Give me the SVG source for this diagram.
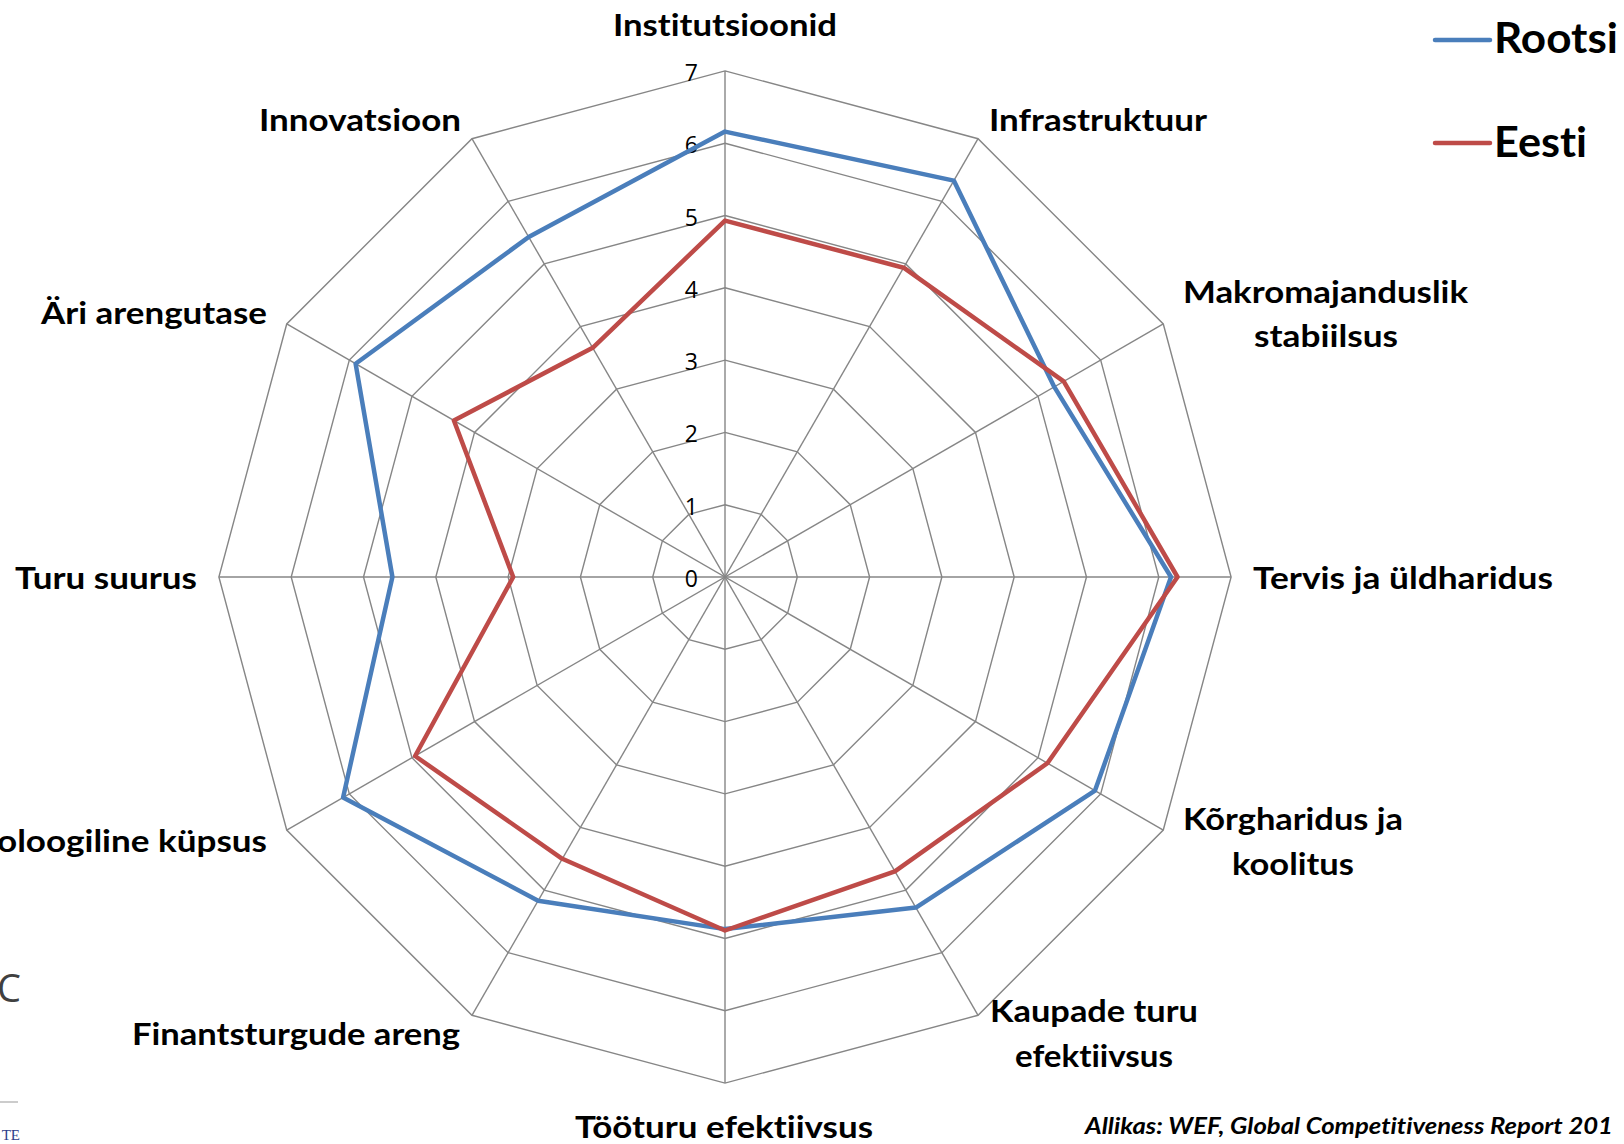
<svg xmlns="http://www.w3.org/2000/svg" width="1624" height="1144" viewBox="0 0 1624 1144">
<style>
.grid{fill:none;stroke:#868686;stroke-width:1.4}
.spoke{stroke:#868686;stroke-width:1.4}
.s1{fill:none;stroke:#4A7EBB;stroke-width:4.5;stroke-linejoin:round}
.s2{fill:none;stroke:#BE4B48;stroke-width:4.5;stroke-linejoin:round}
text{font-variant-ligatures:none;font-feature-settings:"liga" 0,"clig" 0}
.lbl{font-family:Lato,"Open Sans","Liberation Sans",sans-serif;font-weight:bold;font-size:31px;fill:#000}
.num{font-family:"Open Sans","Liberation Sans",sans-serif;font-size:23px;fill:#000;text-anchor:end}
.leg{font-family:Lato,"Open Sans","Liberation Sans",sans-serif;font-weight:bold;font-size:42px;fill:#000}
.src{font-family:Lato,"Open Sans","Liberation Sans",sans-serif;font-weight:bold;font-style:italic;font-size:22px;fill:#000}
</style>
<rect width="1624" height="1144" fill="#fff"/>
<g id="grid" transform="translate(725,577)">
<polygon class="grid" points="0,-72.3 36.15,-62.61 62.61,-36.15 72.3,0 62.61,36.15 36.15,62.61 0,72.3 -36.15,62.61 -62.61,36.15 -72.3,0 -62.61,-36.15 -36.15,-62.61"/>
<polygon class="grid" points="0,-144.6 72.3,-125.23 125.23,-72.3 144.6,0 125.23,72.3 72.3,125.23 0,144.6 -72.3,125.23 -125.23,72.3 -144.6,0 -125.23,-72.3 -72.3,-125.23"/>
<polygon class="grid" points="0,-216.9 108.45,-187.84 187.84,-108.45 216.9,0 187.84,108.45 108.45,187.84 0,216.9 -108.45,187.84 -187.84,108.45 -216.9,0 -187.84,-108.45 -108.45,-187.84"/>
<polygon class="grid" points="0,-289.2 144.6,-250.45 250.45,-144.6 289.2,0 250.45,144.6 144.6,250.45 0,289.2 -144.6,250.45 -250.45,144.6 -289.2,0 -250.45,-144.6 -144.6,-250.45"/>
<polygon class="grid" points="0,-361.5 180.75,-313.06 313.06,-180.75 361.5,0 313.06,180.75 180.75,313.06 0,361.5 -180.75,313.06 -313.06,180.75 -361.5,0 -313.06,-180.75 -180.75,-313.06"/>
<polygon class="grid" points="0,-433.8 216.9,-375.67 375.67,-216.9 433.8,0 375.67,216.9 216.9,375.67 0,433.8 -216.9,375.67 -375.67,216.9 -433.8,0 -375.67,-216.9 -216.9,-375.67"/>
<polygon class="grid" points="0,-506.1 253.05,-438.28 438.28,-253.05 506.1,0 438.28,253.05 253.05,438.28 0,506.1 -253.05,438.28 -438.28,253.05 -506.1,0 -438.28,-253.05 -253.05,-438.28"/>
<line class="spoke" x1="0" y1="-506.1" x2="0" y2="506.1"/>
<line class="spoke" x1="253.05" y1="-438.28" x2="-253.05" y2="438.28"/>
<line class="spoke" x1="438.28" y1="-253.05" x2="-438.28" y2="253.05"/>
<line class="spoke" x1="506.1" y1="0" x2="-506.1" y2="0"/>
<line class="spoke" x1="438.28" y1="253.05" x2="-438.28" y2="-253.05"/>
<line class="spoke" x1="253.05" y1="438.28" x2="-253.05" y2="-438.28"/>
</g>
<g id="axis-numbers">
<text class="num" x="698" y="587">0</text>
<text class="num" x="698" y="514.7">1</text>
<text class="num" x="698" y="442.4">2</text>
<text class="num" x="698" y="370.1">3</text>
<text class="num" x="698" y="297.8">4</text>
<text class="num" x="698" y="225.5">5</text>
<text class="num" x="698" y="153.2">6</text>
<text class="num" x="698" y="80.9">7</text>
</g>
<g id="series" transform="translate(725,577)">
<polygon id="rootsi" class="s1" points="0,-445.4 228.8,-396.4 329.3,-190.1 446,0 370,213.6 190.9,330.6 0,352.1 -186.9,323.7 -381.9,220.5 -332.6,0 -369.4,-213.3 -196.3,-340"/>
<polygon id="eesti" class="s2" points="0,-356.4 178.6,-309.3 338.7,-195.6 452.5,0 322.4,186.2 169.9,294.3 0,353.5 -162.7,281.8 -309.9,179 -211.8,0 -271.1,-156.5 -132.3,-229.2"/>
</g>
<g id="labels">
<text class="lbl" x="613" y="36" textLength="224" lengthAdjust="spacingAndGlyphs">Institutsioonid</text>
<text class="lbl" x="989" y="131" textLength="218" lengthAdjust="spacingAndGlyphs">Infrastruktuur</text>
<text class="lbl" x="1183" y="303" textLength="285" lengthAdjust="spacingAndGlyphs">Makromajanduslik</text>
<text class="lbl" x="1254" y="347" textLength="144" lengthAdjust="spacingAndGlyphs">stabiilsus</text>
<text class="lbl" x="1253" y="589" textLength="300" lengthAdjust="spacingAndGlyphs">Tervis ja üldharidus</text>
<text class="lbl" x="1183" y="830" textLength="220" lengthAdjust="spacingAndGlyphs">Kõrgharidus ja</text>
<text class="lbl" x="1232" y="875" textLength="122" lengthAdjust="spacingAndGlyphs">koolitus</text>
<text class="lbl" x="990" y="1022" textLength="208" lengthAdjust="spacingAndGlyphs">Kaupade turu</text>
<text class="lbl" x="1015" y="1067" textLength="158" lengthAdjust="spacingAndGlyphs">efektiivsus</text>
<text class="lbl" x="575" y="1138" textLength="298" lengthAdjust="spacingAndGlyphs">Tööturu efektiivsus</text>
<text class="lbl" x="132" y="1045" textLength="328" lengthAdjust="spacingAndGlyphs">Finantsturgude areng</text>
<text class="lbl" x="-3" y="852" textLength="270" lengthAdjust="spacingAndGlyphs">oloogiline küpsus</text>
<text class="lbl" x="15" y="589" textLength="182" lengthAdjust="spacingAndGlyphs">Turu suurus</text>
<text class="lbl" x="41" y="324" textLength="226" lengthAdjust="spacingAndGlyphs">Äri arengutase</text>
<text class="lbl" x="259" y="131" textLength="202" lengthAdjust="spacingAndGlyphs">Innovatsioon</text>
</g>
<g id="legend">
<line x1="1435" y1="40" x2="1490" y2="40" stroke="#4A7EBB" stroke-width="4.5" stroke-linecap="round"/>
<text class="leg" x="1494" y="53" textLength="124" lengthAdjust="spacingAndGlyphs">Rootsi</text>
<line x1="1435" y1="143" x2="1490" y2="143" stroke="#BE4B48" stroke-width="4.5" stroke-linecap="round"/>
<text class="leg" x="1494" y="157" textLength="93" lengthAdjust="spacingAndGlyphs">Eesti</text>
</g>
<g id="source">
<text class="src" x="1085" y="1134" textLength="528" lengthAdjust="spacingAndGlyphs">Allikas: WEF, Global Competitiveness Report 201</text>
</g>
<g id="fragments">
<text x="-3" y="1002" font-family="'Open Sans','Liberation Sans',sans-serif" font-size="38" fill="#404040">C</text>
<line x1="0" y1="1102" x2="18" y2="1102" stroke="#bbbbbb" stroke-width="1.5"/>
<text x="20" y="1140" text-anchor="end" font-family="'Liberation Serif',serif" font-size="15" fill="#2d3d8a">TE</text>
</g>
</svg>
